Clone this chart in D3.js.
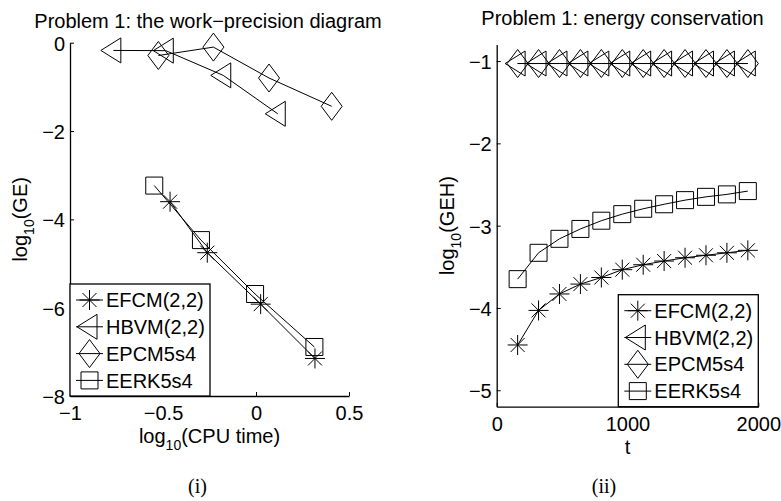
<!DOCTYPE html>
<html><head><meta charset="utf-8">
<script src="https://cdn.jsdelivr.net/npm/d3@7"></script>
<style>
body{margin:0;background:#fff}
svg text{font-family:"Liberation Sans",Arial,Helvetica,sans-serif;fill:#000}
</style>
</head><body>
<svg id="c" width="781" height="501"></svg>
<script>
// ---------- data ----------
const seriesNames = ["EFCM(2,2)", "HBVM(2,2)", "EPCM5s4", "EERK5s4"];
const markerTypes = ["asterisk", "triangle", "diamond", "square"];

// panel (i): work-precision diagram (log10 CPU time vs log10 GE)
const wpEFCM_x = [-0.462, -0.262, 0.025, 0.317];
const wpEFCM_y = [-3.60, -4.755, -5.92, -7.15];
const wpHBVM_x = [-0.767, -0.485, -0.176, 0.117];
const wpHBVM_y = [-0.175, -0.18, -0.74, -1.61];
const wpEPCM_x = [-0.525, -0.229, 0.07, 0.407];
const wpEPCM_y = [-0.29, -0.10, -0.80, -1.44];
const wpEERK_x = [-0.547, -0.296, -0.005, 0.314];
const wpEERK_y = [-3.235, -4.47, -5.69, -6.89];

// panel (ii): energy conservation (t vs log10 GEH)
const tValues = [160, 320, 480, 640, 800, 960, 1120, 1280, 1440, 1600, 1760, 1920];
const ecEFCM = [-4.45, -4.03, -3.83, -3.71, -3.63, -3.535, -3.475, -3.43, -3.39, -3.36, -3.33, -3.30];
const ecHBVM = [-1.03, -1.03, -1.03, -1.03, -1.03, -1.03, -1.03, -1.03, -1.03, -1.03, -1.03, -1.03];
const ecEPCM = [-1.03, -1.03, -1.03, -1.03, -1.03, -1.03, -1.03, -1.03, -1.03, -1.03, -1.03, -1.03];
const ecEERK = [-3.65, -3.33, -3.16, -3.04, -2.94, -2.86, -2.795, -2.74, -2.69, -2.65, -2.62, -2.58];

const leftXTicks = [-1, -0.5, 0, 0.5];
const leftYTicks = [0, -2, -4, -6, -8];
const rightXTicks = [0, 1000, 2000];
const rightYTicks = [-1, -2, -3, -4, -5];

const titles = ["Problem 1: the work\u2212precision diagram", "Problem 1: energy conservation"];
const panelLabels = ["(i)", "(ii)"];

// ---------- drawing ----------
const svg = d3.select("#c");
svg.append("rect").attr("width", 781).attr("height", 501).attr("fill", "#fff");

function markerPath(type) {
  const p = d3.path();
  if (type === "asterisk") {
    p.moveTo(-10, 0); p.lineTo(10, 0);
    p.moveTo(0, -10); p.lineTo(0, 10);
    p.moveTo(-7, -7); p.lineTo(7, 7);
    p.moveTo(-7, 7); p.lineTo(7, -7);
  } else if (type === "triangle") {
    p.moveTo(-12.5, 0); p.lineTo(7.5, -12.5); p.lineTo(7.5, 12.5); p.closePath();
  } else if (type === "diamond") {
    p.moveTo(-10.5, 0); p.lineTo(0, -14); p.lineTo(10.5, 0); p.lineTo(0, 14); p.closePath();
  } else {
    p.rect(-8.5, -8.5, 17, 17);
  }
  return p.toString();
}

function drawPanel(cfg) {
  const g = svg.append("g");
  const x = d3.scaleLinear().domain(cfg.xDomain).range(cfg.xRange);
  const y = d3.scaleLinear().domain(cfg.yDomain).range(cfg.yRange);
  const fmt = d3.format("~g");

  const ax = g.append("g").attr("transform", `translate(0,${cfg.yRange[0]})`)
    .call(d3.axisBottom(x).tickValues(cfg.xTicks).tickFormat(fmt).tickSizeInner(-4).tickSizeOuter(0).tickPadding(10));
  const ay = g.append("g").attr("transform", `translate(${cfg.xRange[0]},0)`)
    .call(d3.axisLeft(y).tickValues(cfg.yTicks).tickFormat(fmt).tickSizeInner(-4).tickSizeOuter(0).tickPadding(5));
  [ax, ay].forEach(a => {
    a.attr("font-family", null).attr("font-size", null);
    a.selectAll("path.domain").attr("stroke", "#000").attr("stroke-width", 1.3);
    a.selectAll(".tick line").attr("stroke", "#000").attr("stroke-width", 1);
    a.selectAll(".tick text").style("font-size", "20px");
  });
  ay.selectAll(".tick text").attr("dy", "0.38em");

  const line = d3.line().x(d => x(d[0])).y(d => y(d[1]));
  cfg.series.forEach((s, i) => {
    const pts = s.xs.map((v, j) => [v, s.ys[j]]);
    g.append("path").attr("d", line(pts)).attr("fill", "none").attr("stroke", "#000").attr("stroke-width", 1);
    g.selectAll(null).data(pts).join("path")
      .attr("transform", d => `translate(${x(d[0])},${y(d[1])})`)
      .attr("d", markerPath(markerTypes[i]))
      .attr("fill", "none").attr("stroke", "#000").attr("stroke-width", 1);
  });

  // title
  g.append("text").attr("x", cfg.titleX).attr("y", cfg.titleY).attr("text-anchor", "middle")
    .style("font-size", "20px").text(cfg.title);

  // x label
  const xl = g.append("text").attr("x", (cfg.xRange[0] + cfg.xRange[1]) / 2).attr("y", cfg.yRange[0] + 47)
    .attr("text-anchor", "middle").style("font-size", "20px");
  cfg.xLabel.forEach(part => {
    xl.append("tspan").attr("dy", part.sub ? 7 : (part.after ? -7 : 0))
      .style("font-size", part.sub ? "14px" : "20px").text(part.t);
  });
  // y label
  const yc = (cfg.yRange[0] + cfg.yRange[1]) / 2;
  const yl = g.append("text").attr("transform", `translate(${cfg.xRange[0] - 43},${yc}) rotate(-90)`)
    .attr("text-anchor", "middle").style("font-size", "20px");
  cfg.yLabel.forEach(part => {
    yl.append("tspan").attr("dy", part.sub ? 7 : (part.after ? -7 : 0))
      .style("font-size", part.sub ? "14px" : "20px").text(part.t);
  });

  // legend
  const lw = 140, lh = 112;
  const lx = cfg.legendRight ? cfg.xRange[1] - lw : cfg.xRange[0];
  const ly = cfg.yRange[0] - lh;
  const lg = g.append("g").attr("transform", `translate(${lx},${ly})`);
  lg.append("rect").attr("width", lw).attr("height", lh).attr("fill", "#fff")
    .attr("stroke", "#000").attr("stroke-width", 1.3);
  seriesNames.forEach((name, i) => {
    const cy = 16 + i * 26.8;
    lg.append("line").attr("x1", 6).attr("x2", 33).attr("y1", cy).attr("y2", cy)
      .attr("stroke", "#000").attr("stroke-width", 1);
    lg.append("path").attr("transform", `translate(19.5,${cy})`).attr("d", markerPath(markerTypes[i]))
      .attr("fill", "none").attr("stroke", "#000").attr("stroke-width", 1);
    lg.append("text").attr("x", 36).attr("y", cy).attr("dy", "0.36em").style("font-size", "20px").text(name);
  });

  // panel label
  g.append("text").attr("x", cfg.panelX).attr("y", 493).attr("text-anchor", "middle")
    .style("font-family", "'Liberation Serif','Times New Roman',serif").style("font-size", "20px").text(cfg.panel);
}

drawPanel({
  xDomain: [-1, 0.5], xRange: [70, 349],
  yDomain: [-8, 0], yRange: [396, 42.7],
  xTicks: leftXTicks, yTicks: leftYTicks,
  series: [
    {xs: wpEFCM_x, ys: wpEFCM_y},
    {xs: wpHBVM_x, ys: wpHBVM_y},
    {xs: wpEPCM_x, ys: wpEPCM_y},
    {xs: wpEERK_x, ys: wpEERK_y}
  ],
  title: titles[0], titleX: 208, titleY: 28,
  xLabel: [{t: "log"}, {t: "10", sub: true}, {t: "(CPU time)", after: true}],
  yLabel: [{t: "log"}, {t: "10", sub: true}, {t: "(GE)", after: true}],
  legendRight: false, panel: panelLabels[0], panelX: 197.5
});

drawPanel({
  xDomain: [0, 2000], xRange: [496.7, 758.3],
  yDomain: [-5.2, -0.8], yRange: [406.7, 44.6],
  xTicks: rightXTicks, yTicks: rightYTicks,
  series: [
    {xs: tValues, ys: ecEFCM},
    {xs: tValues, ys: ecHBVM},
    {xs: tValues, ys: ecEPCM},
    {xs: tValues, ys: ecEERK}
  ],
  title: titles[1], titleX: 622.5, titleY: 25,
  xLabel: [{t: "t"}],
  yLabel: [{t: "log"}, {t: "10", sub: true}, {t: "(GEH)", after: true}],
  legendRight: true, panel: panelLabels[1], panelX: 604
});
</script>
</body></html>
